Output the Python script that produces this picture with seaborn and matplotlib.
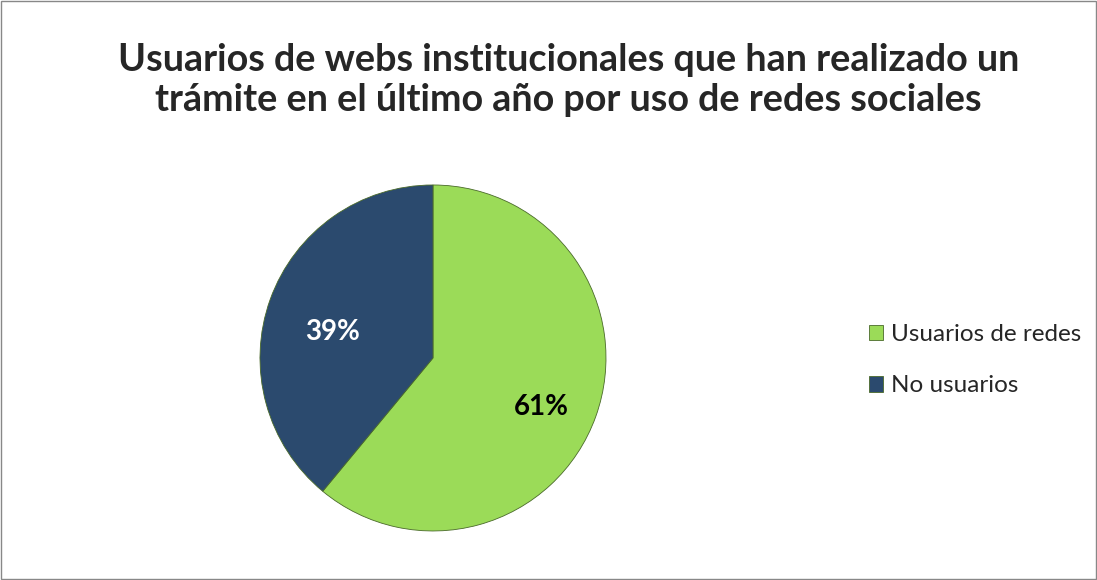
import matplotlib.pyplot as plt
import matplotlib.transforms as mtransforms
import seaborn as sns
from matplotlib.patches import Rectangle

# Data
categories = ["Usuarios de redes", "No usuarios"]
shares = [61, 39]
colors = ["#9BDB58", "#2B4A6E"]
title = "Usuarios de webs institucionales que han realizado un\ntrámite en el último año por uso de redes sociales"

sns.set_theme(style="white")
plt.rcParams['font.family'] = ['Lato', 'DejaVu Sans']

fig = plt.figure(figsize=(10.97, 5.8), dpi=100)
ax = fig.add_axes([0.237, 0.0845, 0.3154, 0.5966])

wedges, texts, autotexts = ax.pie(
    shares, colors=colors, startangle=90, counterclock=False,
    autopct="%d%%", pctdistance=0.64,
    wedgeprops=dict(edgecolor="#4a6a2a", linewidth=0.6),
)
# labels sit a little lower than the centroid, like Excel does
shift = mtransforms.ScaledTranslation(0.04, -0.12, fig.dpi_scale_trans)
label_colors = ["black", "white"]
for t, c in zip(autotexts, label_colors):
    t.set_color(c)
    t.set_fontsize(20)
    t.set_fontweight("bold")
    t.set_transform(t.get_transform() + shift)
ax.set_xlim(-1, 1)
ax.set_ylim(-1, 1)
ax.set_aspect("equal")

fig.text(0.518, 0.862, title, ha="center", va="center", fontsize=27.2,
         fontweight="bold", linespacing=1.2)

fig.legend(wedges, categories, loc="center left", bbox_to_anchor=(0.772, 0.379),
           frameon=False, fontsize=17.5, handlelength=0.6, handleheight=0.6,
           labelspacing=1.25, handletextpad=0.3)

# outer chart border
fig.patches.append(Rectangle((0.001, 0.002), 0.998, 0.996, transform=fig.transFigure,
                             fill=False, edgecolor="#888888", linewidth=1))

plt.savefig("out.png", dpi=100)
